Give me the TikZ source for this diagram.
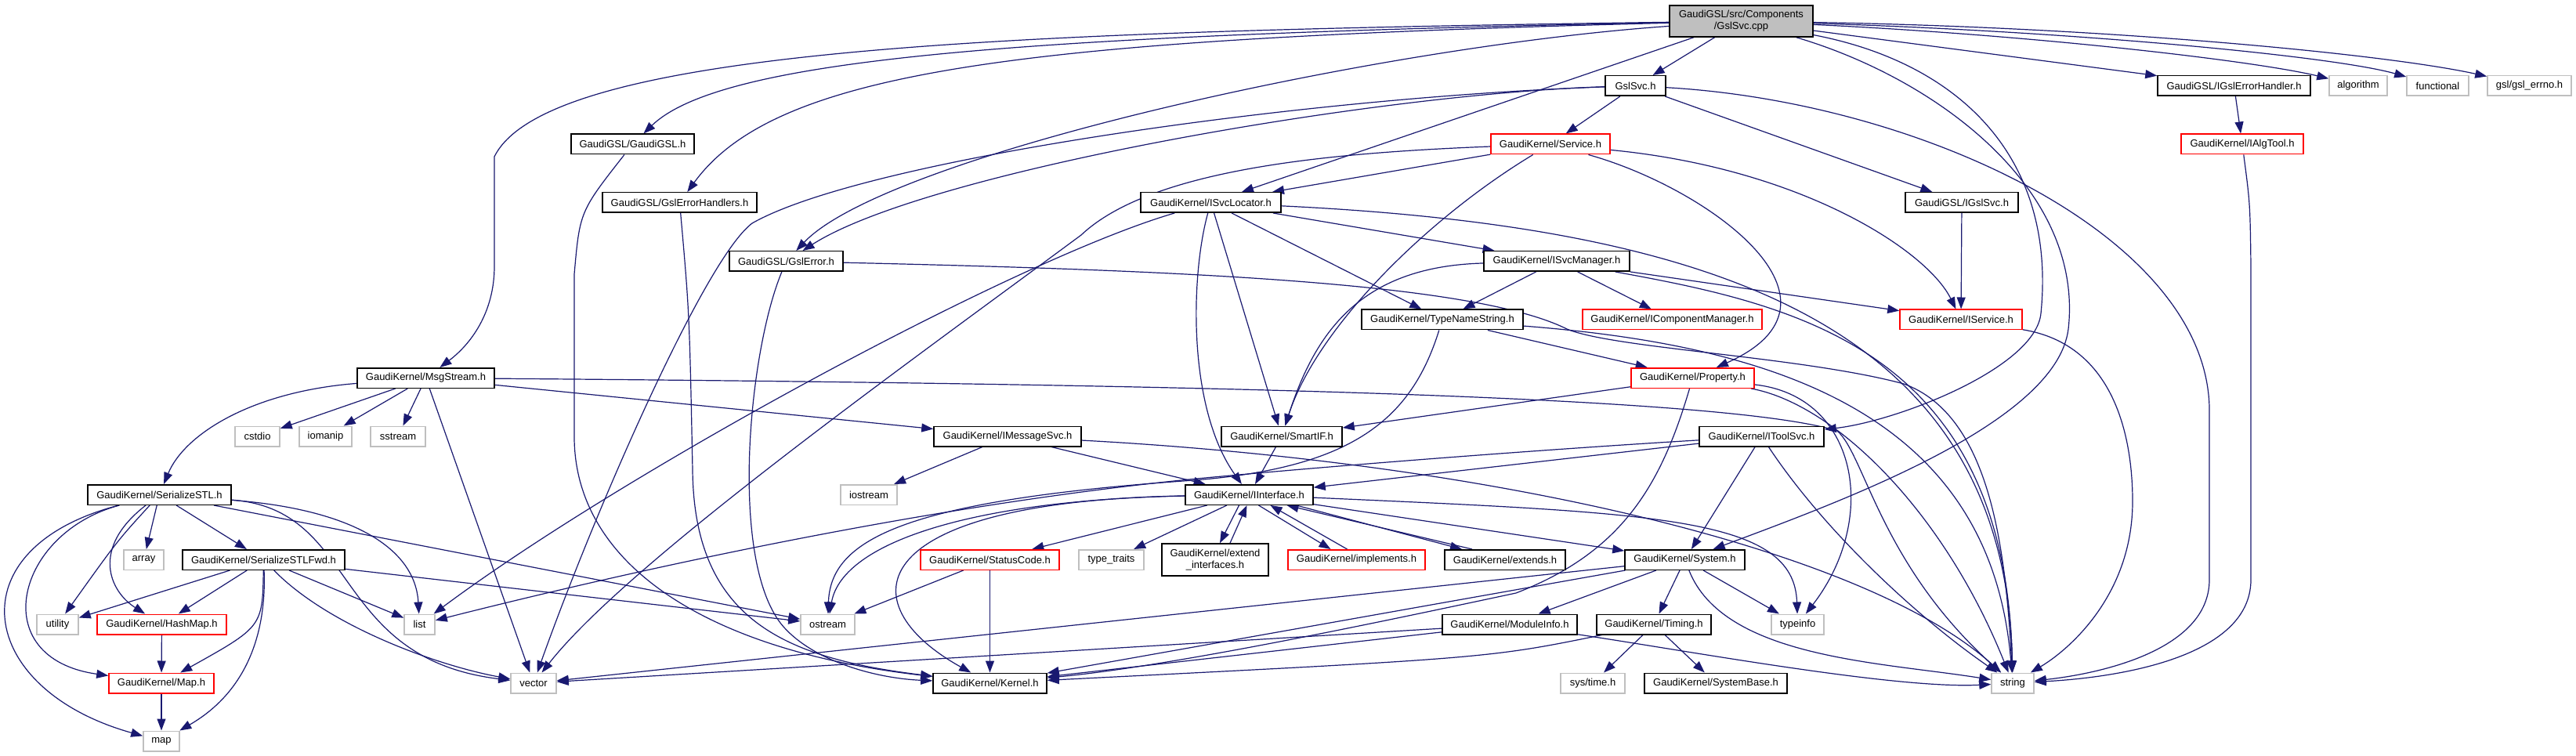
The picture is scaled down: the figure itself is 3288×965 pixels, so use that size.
\documentclass[tikz,border=0pt]{standalone}
\usepackage{fontspec}
\setmainfont{Liberation Sans}
\usetikzlibrary{arrows.meta}
\pgfdeclarelayer{bglayer}
\pgfdeclarelayer{edgelayer}
\pgfsetlayers{bglayer,edgelayer,main}
\newcommand\nodefont{\fontsize{13}{15}\selectfont}
\definecolor{edgeblue}{RGB}{25,25,112}
\definecolor{boxgray}{RGB}{191,191,191}
\definecolor{boxred}{RGB}{255,0,0}
\tikzset{
  nodeblack/.style={draw=black, line width=1.5pt, fill=white, inner sep=0pt, minimum height=25.5pt, font=\nodefont, text=black},
  nodered/.style={nodeblack, draw=boxred},
  nodegray/.style={nodeblack, draw=boxgray},
  edg/.style={draw=edgeblue, line width=1.2pt, -{Triangle[length=15pt,width=11pt]}},
}
\begin{document}
\begin{tikzpicture}[x=1pt,y=-1pt]
\useasboundingbox (0,0) rectangle (3288,965);
\begin{pgfonlayer}{bglayer}
\fill[white] (0,0) rectangle (3288,965);
\end{pgfonlayer}

% ---------------- nodes ----------------
\node[nodeblack, fill=boxgray, minimum width=183, minimum height=40, align=center] (cpp) at (2222.5,27) {GaudiGSL/src/Components\\/GslSvc.cpp};
\node[nodeblack, minimum width=77] (gslsvch) at (2087.5,109.5) {GslSvc.h};
\node[nodeblack, minimum width=195] (igslerr) at (2851.5,109.5) {GaudiGSL/IGslErrorHandler.h};
\node[nodegray, minimum width=74] (algorithm) at (3010,109.5) {algorithm};
\node[nodegray, minimum width=79] (functional) at (3111.5,109.5) {functional};
\node[nodegray, minimum width=107] (gslerrno) at (3228.5,109.5) {gsl/gsl\_errno.h};
\node[nodeblack, minimum width=157] (gaudigslh) at (807.5,184) {GaudiGSL/GaudiGSL.h};
\node[nodered, minimum width=152] (service) at (1979,184) {GaudiKernel/Service.h};
\node[nodered, minimum width=156] (ialgtool) at (2862,184) {GaudiKernel/IAlgTool.h};
\node[nodeblack, minimum width=197] (gslerrhandlers) at (867.5,258.5) {GaudiGSL/GslErrorHandlers.h};
\node[nodeblack, minimum width=179] (isvclocator) at (1545.5,258.5) {GaudiKernel/ISvcLocator.h};
\node[nodeblack, minimum width=144] (igslsvc) at (2504,258.5) {GaudiGSL/IGslSvc.h};
\node[nodeblack, minimum width=145] (gslerror) at (1003.5,333.5) {GaudiGSL/GslError.h};
\node[nodeblack, minimum width=186] (isvcmanager) at (1987,333.5) {GaudiKernel/ISvcManager.h};
\node[nodeblack, minimum width=206] (typenamestring) at (1841,408) {GaudiKernel/TypeNameString.h};
\node[nodered, minimum width=229] (icompmgr) at (2134.5,408) {GaudiKernel/IComponentManager.h};
\node[nodered, minimum width=156] (iservice) at (2503,408) {GaudiKernel/IService.h};
\node[nodeblack, minimum width=175] (msgstream) at (543.5,482.5) {GaudiKernel/MsgStream.h};
\node[nodered, minimum width=157] (property) at (2160.5,482.5) {GaudiKernel/Property.h};
\node[nodegray, minimum width=57] (cstdio) at (328.5,557) {cstdio};
\node[nodegray, minimum width=67] (iomanip) at (415.5,557) {iomanip};
\node[nodegray, minimum width=70] (sstream) at (508,557) {sstream};
\node[nodeblack, minimum width=188] (imessagesvc) at (1286,557) {GaudiKernel/IMessageSvc.h};
\node[nodeblack, minimum width=154] (smartif) at (1636,557) {GaudiKernel/SmartIF.h};
\node[nodeblack, minimum width=159] (itoolsvc) at (2248.5,557) {GaudiKernel/IToolSvc.h};
\node[nodeblack, minimum width=183] (serializestl) at (203.5,631.5) {GaudiKernel/SerializeSTL.h};
\node[nodegray, minimum width=72] (iostream) at (1109,631.5) {iostream};
\node[nodeblack, minimum width=163] (iinterface) at (1594.5,631.5) {GaudiKernel/IInterface.h};
\node[nodegray, minimum width=51] (array) at (183.5,714.5) {array};
\node[nodeblack, minimum width=207] (serializestlfwd) at (336.5,714.5) {GaudiKernel/SerializeSTLFwd.h};
\node[nodered, minimum width=177] (statuscode) at (1263.5,714.5) {GaudiKernel/StatusCode.h};
\node[nodegray, minimum width=83] (typetraits) at (1418.5,714.5) {type\_traits};
\node[nodeblack, minimum width=136, minimum height=41, align=center] (extendif) at (1551,714.5) {GaudiKernel/extend\\\_interfaces.h};
\node[nodered, minimum width=175] (implements) at (1731.5,714.5) {GaudiKernel/implements.h};
\node[nodeblack, minimum width=154] (extends) at (1921,714.5) {GaudiKernel/extends.h};
\node[nodeblack, minimum width=153] (system) at (2150.5,714.5) {GaudiKernel/System.h};
\node[nodegray, minimum width=53] (utility) at (73.5,797) {utility};
\node[nodered, minimum width=165] (hashmap) at (206.5,797) {GaudiKernel/HashMap.h};
\node[nodegray, minimum width=39] (list) at (535.5,797) {list};
\node[nodegray, minimum width=69] (ostream) at (1056.5,797) {ostream};
\node[nodeblack, minimum width=172] (moduleinfo) at (1927,797) {GaudiKernel/ModuleInfo.h};
\node[nodeblack, minimum width=146] (timing) at (2111,797) {GaudiKernel/Timing.h};
\node[nodegray, minimum width=67] (typeinfo) at (2294.5,797) {typeinfo};
\node[nodered, minimum width=134] (maph) at (206,872) {GaudiKernel/Map.h};
\node[nodegray, minimum width=58] (vector) at (681,872) {vector};
\node[nodeblack, minimum width=145] (kernel) at (1263.5,872) {GaudiKernel/Kernel.h};
\node[nodegray, minimum width=82] (systime) at (2033,872) {sys/time.h};
\node[nodeblack, minimum width=182] (systembase) at (2190,872) {GaudiKernel/SystemBase.h};
\node[nodegray, minimum width=54] (string) at (2569,872) {string};
\node[nodegray, minimum width=46] (map) at (206,946) {map};

% ---------------- edges ----------------
\begin{pgfonlayer}{edgelayer}
% from GslSvc.cpp
\draw[edg] (cpp) .. controls (1300,40) and (700,60) .. (631,200) -- (631,340) .. controls (631,400) and (600,440) .. (msgstream);
\draw[edg] (cpp) .. controls (1300,45) and (920,75) .. (gaudigslh);
\draw[edg] (cpp) .. controls (1300,50) and (990,90) .. (gslerrhandlers);
\draw[edg] (cpp) .. controls (1750,60) and (1130,200) .. (gslerror);
\draw[edg] (cpp) -- (isvclocator);
\draw[edg] (cpp) -- (gslsvch);
\draw[edg] (cpp) -- (igslerr);
\draw[edg] (cpp) .. controls (2600,45) and (2880,78) .. (algorithm);
\draw[edg] (cpp) .. controls (2650,40) and (2980,72) .. (functional);
\draw[edg] (cpp) .. controls (2700,35) and (3050,70) .. (gslerrno);
\draw[edg] (cpp) .. controls (2500,80) and (2625,200) .. (2605,400) .. controls (2598,470) and (2420,538) .. (itoolsvc);
\draw[edg] (cpp) .. controls (2470,100) and (2660,240) .. (2640,420) .. controls (2625,540) and (2350,640) .. (system);
% GslSvc.h
\draw[edg] (gslsvch) -- (service);
\draw[edg] (gslsvch) -- (igslsvc);
\draw[edg] (gslsvch) .. controls (2450,130) and (2815,300) .. (2820,520) -- (2820,740) .. controls (2820,830) and (2680,860) .. (string);
\draw[edg] (gslsvch) .. controls (1750,120) and (1180,220) .. (gslerror);
\draw[edg] (gslsvch) .. controls (1650,125) and (1100,205) .. (960,285) .. controls (900,330) and (760,650) .. (vector);
% GaudiGSL headers
\draw[edg] (gaudigslh) .. controls (740,270) .. (733,350) -- (733,560) .. controls (735,720) and (900,830) .. (kernel);
\draw[edg] (gslerrhandlers) .. controls (880,400) .. (884,600) .. controls (886,790) and (1000,840) .. (kernel);
\draw[edg] (gslerror) .. controls (955,450) and (930,720) .. (1000,800) .. controls (1040,845) and (1120,866) .. (kernel);
\draw[edg] (gslerror) .. controls (1500,345) and (1880,360) .. (2000,420) .. controls (2060,445) and (2300,455) .. (2430,490) .. controls (2540,530) and (2560,700) .. (string);
% Service.h
\draw[edg] (service) -- (isvclocator);
\draw[edg] (service) .. controls (1700,195) and (1470,215) .. (1380,300) .. controls (1150,470) and (800,720) .. (vector);
\draw[edg] (service) .. controls (1820,280) and (1680,420) .. (smartif);
\draw[edg] (service) .. controls (2180,240) and (2380,385) .. (property);
\draw[edg] (service) .. controls (2300,215) and (2460,320) .. (iservice);
% IGslSvc, IGslErrorHandler, IAlgTool, IService
\draw[edg] (igslsvc) -- (iservice);
\draw[edg] (igslerr) -- (ialgtool);
\draw[edg] (ialgtool) .. controls (2872,260) .. (2873,340) -- (2873,740) .. controls (2873,840) and (2700,865) .. (string);
\draw[edg] (iservice) .. controls (2700,440) and (2722,560) .. (2722,640) .. controls (2722,760) and (2640,830) .. (string);
% ISvcLocator
\draw[edg] (isvclocator) .. controls (1300,330) and (800,600) .. (list);
\draw[edg] (isvclocator) .. controls (1520,350) and (1515,520) .. (iinterface);
\draw[edg] (isvclocator) -- (smartif);
\draw[edg] (isvclocator) -- (typenamestring);
\draw[edg] (isvclocator) -- (isvcmanager);
\draw[edg] (isvclocator) .. controls (2200,290) and (2560,420) .. (string);
% ISvcManager
\draw[edg] (isvcmanager) -- (typenamestring);
\draw[edg] (isvcmanager) -- (icompmgr);
\draw[edg] (isvcmanager) -- (iservice);
\draw[edg] (isvcmanager) .. controls (2300,390) and (2560,450) .. (string);
\draw[edg] (isvcmanager) .. controls (1740,340) and (1680,420) .. (smartif);
% TypeNameString
\draw[edg] (typenamestring) -- (property);
\draw[edg] (typenamestring) .. controls (2250,440) and (2540,520) .. (string);
\draw[edg] (typenamestring) .. controls (1800,540) and (1720,600) .. (1510,614) .. controls (1150,640) and (1060,690) .. (ostream);
% MsgStream
\draw[edg] (msgstream) .. controls (320,500) and (235,555) .. (serializestl);
\draw[edg] (msgstream) -- (cstdio);
\draw[edg] (msgstream) -- (iomanip);
\draw[edg] (msgstream) -- (sstream);
\draw[edg] (msgstream) -- (vector);
\draw[edg] (msgstream) -- (imessagesvc);
\draw[edg] (msgstream) .. controls (1500,490) and (2200,505) .. (2345,550) .. controls (2380,580) and (2400,720) .. (string);
% Property
\draw[edg] (property) -- (smartif);
\draw[edg] (property) .. controls (2120,620) and (2070,705) .. (1935,757) .. controls (1780,790) and (1500,850) .. (kernel);
\draw[edg] (property) .. controls (2370,505) and (2400,660) .. (typeinfo);
\draw[edg] (property) .. controls (2340,515) and (2480,650) .. (string);
% IToolSvc
\draw[edg] (itoolsvc) -- (iinterface);
\draw[edg] (itoolsvc) .. controls (1950,575) and (1700,595) .. (1560,608) .. controls (1200,640) and (800,730) .. (list);
\draw[edg] (itoolsvc) -- (system);
\draw[edg] (itoolsvc) .. controls (2330,680) and (2450,790) .. (string);
% IMessageSvc, SmartIF
\draw[edg] (imessagesvc) -- (iostream);
\draw[edg] (imessagesvc) -- (iinterface);
\draw[edg] (imessagesvc) .. controls (1900,590) and (2380,700) .. (string);
\draw[edg] (smartif) -- (iinterface);
% SerializeSTL
\draw[edg] (serializestl) .. controls (-60,700) and (-30,880) .. (map);
\draw[edg] (serializestl) .. controls (20,680) and (-20,840) .. (maph);
\draw[edg] (serializestl) .. controls (150,690) .. (utility);
\draw[edg] (serializestl) .. controls (115,700) and (140,755) .. (hashmap);
\draw[edg] (serializestl) -- (array);
\draw[edg] (serializestl) -- (serializestlfwd);
\draw[edg] (serializestl) .. controls (450,650) and (530,700) .. (list);
\draw[edg] (serializestl) .. controls (460,650) and (420,840) .. (vector);
\draw[edg] (serializestl) -- (ostream);
% SerializeSTLFwd
\draw[edg] (serializestlfwd) -- (utility);
\draw[edg] (serializestlfwd) -- (hashmap);
\draw[edg] (serializestlfwd) .. controls (335,800) .. (maph);
\draw[edg] (serializestlfwd) .. controls (340,800) and (320,880) .. (map);
\draw[edg] (serializestlfwd) .. controls (420,800) and (560,850) .. (vector);
\draw[edg] (serializestlfwd) -- (list);
\draw[edg] (serializestlfwd) -- (ostream);
\draw[edg] (hashmap) -- (maph);
\draw[edg] (maph) -- (map);
% IInterface
\draw[edg] (iinterface) .. controls (1250,638) and (1075,690) .. (ostream);
\draw[edg] (iinterface) .. controls (1100,640) and (1080,770) .. (kernel);
\draw[edg] (iinterface) -- (statuscode);
\draw[edg] (iinterface) -- (typetraits);
\draw[edg] ([xshift=-13]iinterface.south) -- ([xshift=6]extendif.north);
\draw[edg] ([xshift=19]extendif.north) -- ([xshift=-3]iinterface.south);
\draw[edg] ([xshift=12]iinterface.south) -- ([xshift=-33]implements.north);
\draw[edg] ([xshift=-12]implements.north) -- ([xshift=27]iinterface.south);
\draw[edg] ([xshift=60]iinterface.south) -- ([xshift=-55]extends.north);
\draw[edg] ([xshift=-42]extends.north) -- ([xshift=48]iinterface.south);
\draw[edg] (iinterface) -- (system);
\draw[edg] (iinterface) .. controls (2120,655) and (2290,660) .. (typeinfo);
% StatusCode
\draw[edg] (statuscode) -- (ostream);
\draw[edg] (statuscode) -- (kernel);
% System
\draw[edg] (system) -- (moduleinfo);
\draw[edg] (system) -- (timing);
\draw[edg] (system) -- (typeinfo);
\draw[edg] (system) -- (vector);
\draw[edg] (system) -- (kernel);
\draw[edg] (system) .. controls (2200,840) and (2400,845) .. (string);
% ModuleInfo, Timing
\draw[edg] (moduleinfo) -- (kernel);
\draw[edg] (moduleinfo) -- (vector);
\draw[edg] (moduleinfo) .. controls (2150,830) and (2420,880) .. (string);
\draw[edg] (timing) .. controls (1900,840) .. (kernel);
\draw[edg] (timing) -- (systime);
\draw[edg] (timing) -- (systembase);
\end{pgfonlayer}
\end{tikzpicture}
\end{document}
